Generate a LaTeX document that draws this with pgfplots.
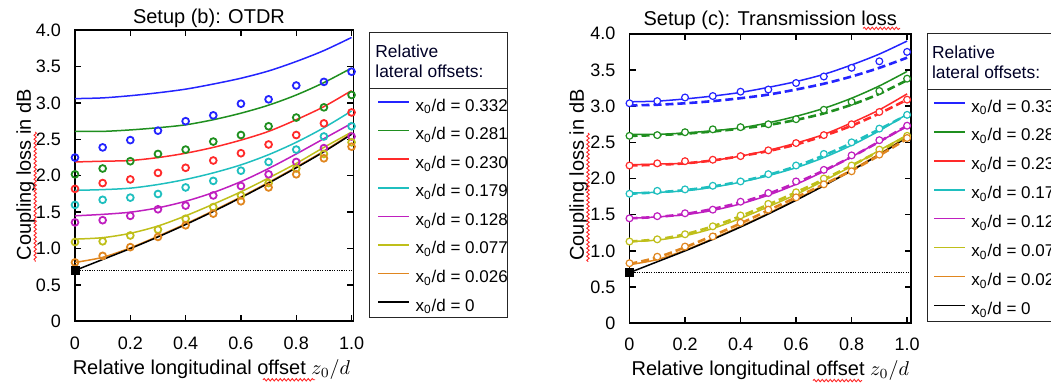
\documentclass[border=0pt]{standalone}
\usepackage{fontspec}
\setmainfont{Liberation Sans}
\usepackage{pgfplots}
\usepackage{pgfplotstable}
\pgfplotsset{compat=1.18}
\usetikzlibrary{decorations.pathmorphing}

\definecolor{cB}{HTML}{2424FF}
\definecolor{cG}{HTML}{1F8F1F}
\definecolor{cR}{HTML}{FF2A2A}
\definecolor{cC}{HTML}{1FBFBF}
\definecolor{cM}{HTML}{BF1FBF}
\definecolor{cY}{HTML}{BFBF1A}
\definecolor{cO}{HTML}{E0861F}

% theoretical curves (same in both setups)
\pgfplotstableread{
x   b    g    r    c    m    y    o    k
0.0 3.06 2.61 2.19 1.80 1.45 1.13 0.81 0.70
0.1 3.07 2.61 2.20 1.81 1.47 1.15 0.88 0.85
0.2 3.10 2.63 2.21 1.83 1.50 1.21 1.01 1.00
0.3 3.14 2.66 2.25 1.88 1.56 1.31 1.17 1.16
0.4 3.19 2.70 2.31 1.95 1.65 1.45 1.34 1.33
0.5 3.26 2.77 2.39 2.04 1.77 1.61 1.52 1.51
0.6 3.34 2.86 2.49 2.15 1.92 1.78 1.71 1.70
0.7 3.44 2.97 2.61 2.29 2.10 1.97 1.91 1.90
0.8 3.57 3.11 2.77 2.46 2.30 2.17 2.12 2.11
0.9 3.72 3.28 2.95 2.66 2.51 2.39 2.34 2.33
1.0 3.90 3.48 3.17 2.89 2.72 2.60 2.58 2.57
}\theory

% Setup (b): OTDR measurements
\pgfplotstableread{
x   b    g    r    c    m    y    o
0.0 2.25 2.02 1.82 1.60 1.36 1.09 0.81
0.1 2.39 2.10 1.90 1.67 1.39 1.10 0.90
0.2 2.49 2.20 1.95 1.70 1.45 1.18 1.02
0.3 2.62 2.30 2.04 1.75 1.54 1.26 1.16
0.4 2.75 2.36 2.11 1.84 1.59 1.41 1.32
0.5 2.83 2.47 2.21 1.93 1.73 1.57 1.48
0.6 2.99 2.56 2.31 2.07 1.86 1.73 1.65
0.7 3.05 2.68 2.43 2.19 2.02 1.90 1.84
0.8 3.24 2.80 2.56 2.36 2.19 2.10 2.02
0.9 3.29 2.94 2.72 2.54 2.38 2.30 2.24
1.0 3.43 3.11 2.87 2.68 2.54 2.46 2.40
}\otdr

% Setup (c): transmission loss measurements
\pgfplotstableread{
x   b    g    r    c    m    y    o
0.0 3.04 2.59 2.18 1.79 1.45 1.13 0.83
0.1 3.07 2.60 2.21 1.83 1.48 1.16 0.92
0.2 3.12 2.64 2.24 1.85 1.52 1.23 1.06
0.3 3.14 2.68 2.26 1.90 1.57 1.34 1.20
0.4 3.20 2.71 2.31 1.96 1.68 1.49 1.39
0.5 3.23 2.75 2.39 2.06 1.80 1.65 1.57
0.6 3.32 2.82 2.49 2.18 1.96 1.81 1.74
0.7 3.41 2.95 2.60 2.34 2.12 2.00 1.92
0.8 3.53 3.06 2.75 2.50 2.32 2.18 2.10
0.9 3.62 3.21 2.92 2.69 2.53 2.40 2.33
1.0 3.75 3.38 3.09 2.88 2.73 2.59 2.56
}\trans

% Setup (c): dashed curves
\pgfplotstableread{
x   b    g    r    c    m    y    o
0.0 3.01 2.59 2.18 1.79 1.45 1.13 0.82
0.1 3.02 2.60 2.19 1.81 1.47 1.16 0.91
0.2 3.04 2.62 2.21 1.84 1.51 1.23 1.05
0.3 3.07 2.65 2.25 1.89 1.58 1.34 1.21
0.4 3.11 2.69 2.31 1.96 1.67 1.48 1.38
0.5 3.16 2.74 2.38 2.05 1.79 1.64 1.56
0.6 3.23 2.81 2.47 2.17 1.94 1.81 1.74
0.7 3.31 2.90 2.59 2.32 2.11 1.99 1.92
0.8 3.41 3.02 2.73 2.49 2.30 2.18 2.11
0.9 3.53 3.17 2.90 2.68 2.51 2.38 2.32
1.0 3.67 3.36 3.09 2.88 2.73 2.59 2.55
}\transdash

\pgfplotsset{
  myax/.style={
    scale only axis,
    xmin=0, ymin=0, ymax=4,
    xtick={0,0.2,0.4,0.6,0.8,1},
    xticklabels={0,0.2,0.4,0.6,0.8,1.0},
    ytick={0,0.5,1,1.5,2,2.5,3,3.5,4},
    yticklabels={0,0.5,1.0,1.5,2.0,2.5,3.0,3.5,4.0},
    tick align=inside,
    major tick length=3pt,
    every tick/.style={black, line width=0.7pt},
    axis line style={line width=0.9pt},
    tick label style={font=\fontsize{9}{10}\selectfont},
    yticklabel style={xshift=-3.5pt},
    xticklabel style={yshift=-4pt},
    clip=false,
    every axis title shift=0pt,
    title style={font=\fontsize{10}{12}\selectfont, anchor=base},
    label style={font=\fontsize{10}{12}\selectfont},
    legend cell align=left,
    legend image code/.code={\draw[##1] (0pt,2pt) -- (15.5pt,2pt);},
  },
  th/.style={line width=0.75pt, smooth},
  om/.style={only marks, mark=o, mark size=1.7pt, line width=0.9pt, forget plot},
  tm/.style={only marks, mark=*, mark options={fill=white}, mark size=1.7pt, line width=0.6pt, forget plot},
  td/.style={line width=1.3pt, dash pattern=on 4pt off 2pt, smooth, forget plot},
}

\newcommand{\theoryplots}{%
  \addplot[cB, th] table[x=x,y=b]{\theory};
  \addlegendentry{x\textsubscript{0}/d = 0.332}
  \addplot[cG, th] table[x=x,y=g]{\theory};
  \addlegendentry{x\textsubscript{0}/d = 0.281}
  \addplot[cR, th] table[x=x,y=r]{\theory};
  \addlegendentry{x\textsubscript{0}/d = 0.230}
  \addplot[cC, th] table[x=x,y=c]{\theory};
  \addlegendentry{x\textsubscript{0}/d = 0.179}
  \addplot[cM, th] table[x=x,y=m]{\theory};
  \addlegendentry{x\textsubscript{0}/d = 0.128}
  \addplot[cY, th] table[x=x,y=y]{\theory};
  \addlegendentry{x\textsubscript{0}/d = 0.077}
  \addplot[cO, th] table[x=x,y=o]{\theory};
  \addlegendentry{x\textsubscript{0}/d = 0.026}
  \addplot[black, th] table[x=x,y=k]{\theory};
  \addlegendentry{x\textsubscript{0}/d = 0}
}

\begin{document}
\begin{tikzpicture}

% ---------------- Setup (b): OTDR ----------------
\begin{axis}[myax,
  at={(37.5pt,30.8pt)}, anchor=south west,
  width=139.25pt, height=145.6pt, xmax=1.007,
  title={Setup (b): OTDR},
  title style={at={(axis description cs:0.481,1.0223)}},
  xlabel={Relative longitudinal offset $z_0/d$},
  xlabel style={at={(axis description cs:0.49,-0.184)}, anchor=base},
  ylabel={Coupling loss in dB},
  ylabel style={at={(axis description cs:-0.158,0.504)}, anchor=base},
  legend style={at={(axis description cs:1.0855,0.7703)}, anchor=north west,
    draw=none, fill=none, inner sep=0pt, outer sep=0pt,
    row sep=5.29pt, column sep=2.85pt,
    font=\fontsize{8.5}{10}\selectfont,
    nodes={inner sep=0pt, text height=7pt, text depth=2pt}},
]
\theoryplots
\addplot[black, line width=0.4pt, dash pattern=on 0.6pt off 0.6pt, forget plot] coordinates {(0,0.7) (1.007,0.7)};
\addplot[cB, om] table[x=x,y=b]{\otdr};
\addplot[cG, om] table[x=x,y=g]{\otdr};
\addplot[cR, om] table[x=x,y=r]{\otdr};
\addplot[cC, om] table[x=x,y=c]{\otdr};
\addplot[cM, om] table[x=x,y=m]{\otdr};
\addplot[cY, om] table[x=x,y=y]{\otdr};
\addplot[cO, om] table[x=x,y=o]{\otdr};
\addplot[black, only marks, mark=square*, mark size=2pt, forget plot] coordinates {(0,0.7)};
\end{axis}

% ---------------- Setup (c): Transmission loss ----------------
\begin{axis}[myax,
  at={(314.75pt,29.85pt)}, anchor=south west,
  width=140.75pt, height=144.75pt, xmax=1.014,
  title={Setup (c): Transmission loss},
  title style={at={(axis description cs:0.5,1.030)}},
  xlabel={Relative longitudinal offset $z_0/d$},
  xlabel style={at={(axis description cs:0.5,-0.182)}, anchor=base},
  ylabel={Coupling loss in dB},
  ylabel style={at={(axis description cs:-0.162,0.512)}, anchor=base},
  legend style={at={(axis description cs:1.0792,0.7779)}, anchor=north west,
    draw=none, fill=none, inner sep=0pt, outer sep=0pt,
    row sep=5.45pt, column sep=2.85pt,
    font=\fontsize{8.5}{10}\selectfont,
    nodes={inner sep=0pt, text height=7pt, text depth=2pt}},
]
\theoryplots
\addplot[black, line width=0.4pt, dash pattern=on 0.6pt off 0.6pt, forget plot] coordinates {(0,0.7) (1.014,0.7)};
\addplot[cB, td] table[x=x,y=b]{\transdash};
\addplot[cG, td] table[x=x,y=g]{\transdash};
\addplot[cR, td] table[x=x,y=r]{\transdash};
\addplot[cC, td] table[x=x,y=c]{\transdash};
\addplot[cM, td] table[x=x,y=m]{\transdash};
\addplot[cY, td] table[x=x,y=y]{\transdash};
\addplot[cO, td] table[x=x,y=o]{\transdash};
\addplot[cB, tm] table[x=x,y=b]{\trans};
\addplot[cG, tm] table[x=x,y=g]{\trans};
\addplot[cR, tm] table[x=x,y=r]{\trans};
\addplot[cC, tm] table[x=x,y=c]{\trans};
\addplot[cM, tm] table[x=x,y=m]{\trans};
\addplot[cY, tm] table[x=x,y=y]{\trans};
\addplot[cO, tm] table[x=x,y=o]{\trans};
\addplot[black, only marks, mark=square*, mark size=2pt, forget plot] coordinates {(0,0.7)};
\end{axis}

% legend frames and headers
\begin{scope}[line width=0.7pt, draw=black!85]
  \draw (184.65pt,32.65pt) rectangle (253.65pt,175.15pt);
  \draw (184.65pt,147.35pt) -- (253.65pt,147.35pt);
  \draw (463.65pt,30.65pt) rectangle (532.65pt,174.85pt);
  \draw (463.65pt,146.85pt) -- (532.65pt,146.85pt);
\end{scope}
\begin{scope}[every node/.style={inner sep=0pt, anchor=base west, font=\fontsize{8.7}{10}\selectfont, text=black!85!blue}]
  \node at (187.5pt,162.85pt) {Relative};
  \node at (187.5pt,152.85pt) {lateral offsets:};
  \node at (465.85pt,162.35pt) {Relative};
  \node at (465.85pt,152pt) {lateral offsets:};
\end{scope}

% spell-check squiggles of the original figure
\begin{scope}[red!85, line width=0.45pt, decoration={snake, amplitude=0.6pt, segment length=2pt}]
  \draw[decorate] (131.5pt,1.6pt) -- (157.5pt,1.6pt);
  \draw[decorate] (406.5pt,1.2pt) -- (431pt,1.2pt);
  \draw[decorate] (431.5pt,177.3pt) -- (450pt,177.3pt);
  \draw[decorate] (17.6pt,125.5pt) -- (17.6pt,60.5pt);
  \draw[decorate] (294pt,125pt) -- (294pt,60.5pt);
\end{scope}

\pgfresetboundingbox
\useasboundingbox (0,0) rectangle (525.5pt,191.5pt);
\end{tikzpicture}
\end{document}
